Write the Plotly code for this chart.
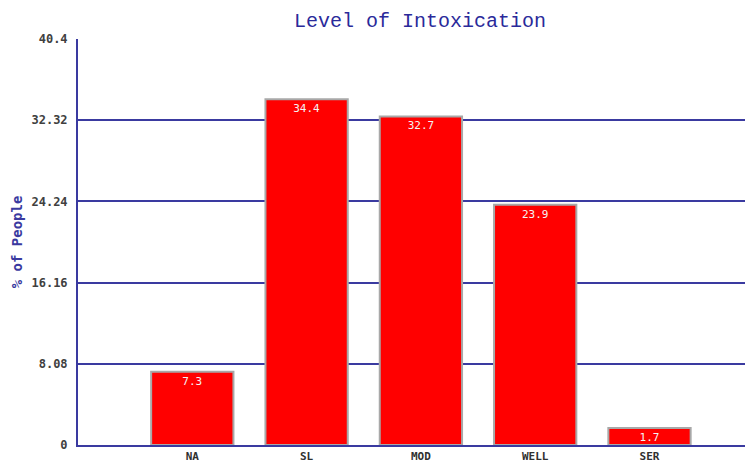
import plotly.graph_objects as go

categories = ["NA", "SL", "MOD", "WELL", "SER"]
values = [7.3, 34.4, 32.7, 23.9, 1.7]
y_ticks = [0, 8.08, 16.16, 24.24, 32.32, 40.4]
y_tick_labels = ["0", "8.08", "16.16", "24.24", "32.32", "40.4"]

x_pos = list(range(len(categories)))
grid_col = "#3a3aa0"

# the page body adds an 8px offset, so the figure is sized to end at the window edge
FW, FH = 745, 454
ML, MT, MB, MR = 70, 31, 17, 0
PW = FW - ML - MR

fig = go.Figure()
fig.add_trace(go.Bar(
    x=x_pos, y=values, width=0.72,
    marker=dict(color="#ff0000", line=dict(color="#a8a8a8", width=2)),
    text=[f"{v}" for v in values],
    textposition="inside", insidetextanchor="end",
    constraintext="none",
    textfont=dict(family="DejaVu Sans Mono", size=11, color="#f4f4f4"),
    hoverinfo="skip",
))

fig.update_layout(
    width=FW, height=FH,
    margin=dict(l=ML, r=MR, t=MT, b=MB, autoexpand=False),
    paper_bgcolor="white", plot_bgcolor="white",
    showlegend=False,
    title=dict(text="Level of Intoxication", x=412/FW, xanchor="center",
               y=1 - 12/FH, yanchor="middle", automargin=False,
               font=dict(family="Liberation Mono", size=20, color="#2a2a9a")),
)

fig.update_xaxes(
    range=[-1, -1 + PW / 114.3],
    tickvals=x_pos, ticktext=categories,
    tickfont=dict(family="DejaVu Sans Mono", size=11, color="#303030", weight="bold"),
    showgrid=False, zeroline=False, automargin=False,
    showline=True, linecolor=grid_col, linewidth=2,
    ticks="", ticklabelstandoff=0, fixedrange=True,
)
fig.update_yaxes(
    range=[0, 40.4],
    tickvals=y_ticks, ticktext=y_tick_labels,
    tickfont=dict(family="DejaVu Sans Mono", size=12, color="#404040", weight="bold"),
    showgrid=True, gridcolor=grid_col, gridwidth=2,
    zeroline=False, automargin=False,
    showline=True, linecolor=grid_col, linewidth=2,
    ticks="", ticklabelstandoff=6,
    title=dict(text="<b>% of People</b>", standoff=6,
               font=dict(family="DejaVu Sans Mono", size=14, color="#3a3aa0")),
)

fig.write_html("out.html")
